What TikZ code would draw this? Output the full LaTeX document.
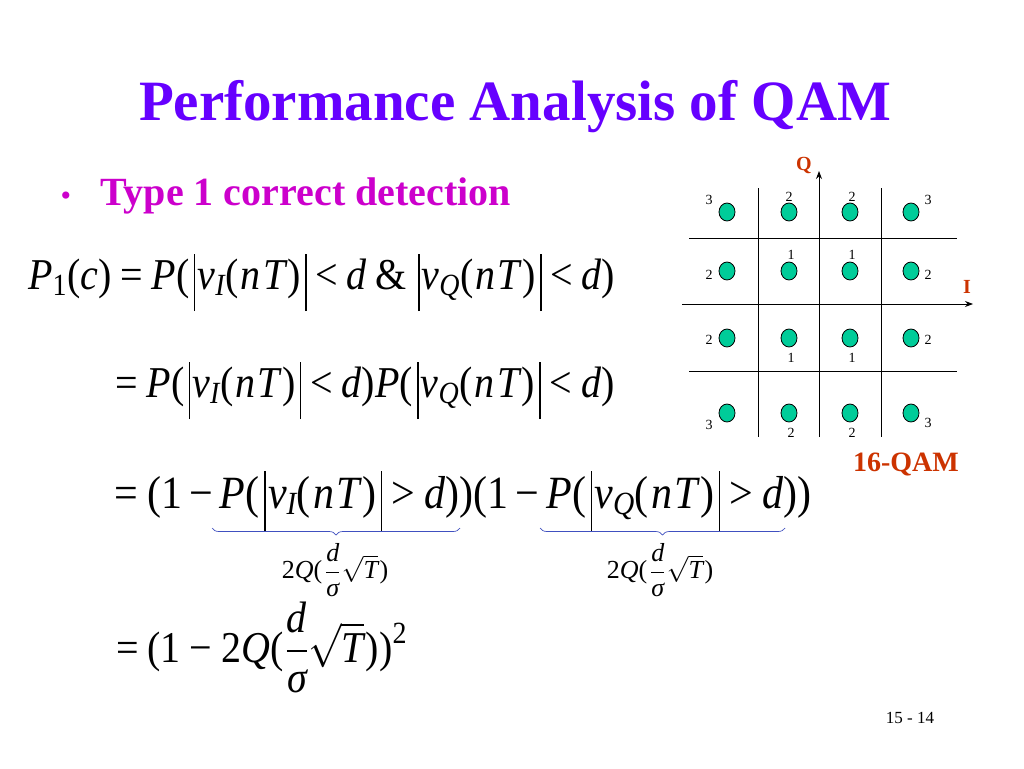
\RequirePackage{fix-cm}
\documentclass[tikz,border=0pt]{standalone}
\usepackage{amsmath}
\usepackage{graphicx}
\usepackage[no-math]{fontspec}
\setmainfont{Liberation Serif}[BoldFont={Liberation Serif Bold}, ItalicFont={Liberation Serif Italic}, BoldItalicFont={Liberation Serif Bold Italic}]
\usetikzlibrary{decorations.pathreplacing,shapes.geometric,arrows.meta}
\definecolor{titlec}{HTML}{6600FF}
\definecolor{bulc}{HTML}{CC00CC}
\definecolor{qamc}{HTML}{CC3300}
\definecolor{dotc}{HTML}{00CC99}
\definecolor{bracec}{HTML}{4050C0}
\newcommand\vi[1]{\textit{#1}}
\newcommand\vu[1]{\textup{#1}}
\newcommand\Eq{\mathrel{\textup{=}}}
\newcommand\Lt{\mathrel{\textup{<}}}
\newcommand\Gt{\mathrel{\textup{>}}}
\newcommand\Mn{\mkern3mu\mathord{\textup{−}}\mkern3mu}
\newcommand\Mb{\mathbin{\textup{−}}}
\newcommand\Lp{\mathopen{\textup{(}}}
\newcommand\Rp{\mathclose{\textup{)}}}
\newcommand\nT{\Lp\mkern1mu\vi{n}\mkern1mu\vi{T}\mkern1mu\Rp}
\newcommand\Al{\mathord{\mkern2mu\rule[-0.5em]{0.035em}{1.3em}\mkern1mu}}
\newcommand\Ar{\mathord{\mkern2mu\rule[-0.5em]{0.035em}{1.3em}}}
\newcommand\Amp{\mathord{\mkern4mu\textup{\&}\mkern3mu}}
\newcommand\Sy[1]{\scalebox{1}[1.1]{$\thickmuskip=4mu\relax #1$}}
\begin{document}
\begin{tikzpicture}[x=1pt,y=-1pt,
  eq/.style={anchor=base west, inner sep=0, font=\fontsize{40}{44}\selectfont},
  eqb/.style={anchor=base west, inner sep=0, font=\fontsize{42}{46}\selectfont},
  sub/.style={anchor=center, inner sep=0, font=\fontsize{26}{28}\selectfont},
  num/.style={inner sep=0, font=\fontsize{14}{16}\selectfont},
  qdot/.style={ellipse, draw=black, line width=0.8pt, fill=dotc, minimum width=16pt, minimum height=18pt, inner sep=0},
  grid/.style={line width=0.8pt, black},
  axis/.style={line width=0.9pt, black, -{Stealth[length=8pt,width=6pt]}},
  lbl/.style={inner sep=0, text=qamc, font=\fontsize{20}{22}\selectfont\bfseries},
  brc/.style={decorate, decoration={brace, mirror, amplitude=7pt}, bracec, line width=0.7pt}]
\useasboundingbox (0,0) rectangle (1024,768);
\fill[white] (0,0) rectangle (1024,768);

% title
\node[anchor=base, inner sep=0, text=titlec, font=\fontsize{57}{60}\selectfont\bfseries] (title) at (515,120) {Performance Analysis of QAM};
\node[anchor=base, inner sep=0, text=bulc, font=\fontsize{30}{32}\selectfont] (bul) at (66,205) {•};
\node[anchor=base west, inner sep=0, text=bulc, font=\fontsize{40}{42}\selectfont\bfseries] (type) at (100,205) {Type 1 correct detection};

% equations
\node[eq] (e1) at (28,289) {\Sy{\vi{P}_{\vu{1}}\Lp\vi{c}\Rp \Eq \vi{P}\Lp\Al\vi{v}_{\vi{I}}\nT\Ar \Lt \vi{d}\Amp\Al\vi{v}_{\vi{Q}}\nT\Ar \Lt \vi{d}\Rp}};
\node[eq] (e2) at (115,397) {\Sy{\Eq \vi{P}\Lp\Al\vi{v}_{\vi{I}}\nT\Ar \Lt \vi{d}\Rp\vi{P}\Lp\Al\vi{v}_{\vi{Q}}\nT\Ar \Lt \vi{d}\Rp}};
\node[eqb] (e3) at (114,508) {\Sy{\Eq \Lp\vu{1}\Mn\vi{P}\Lp\Al\vi{v}_{\vi{I}}\nT\Ar \Gt \vi{d}\Rp\Rp\Lp\vu{1}\Mn\vi{P}\Lp\Al\vi{v}_{\vi{Q}}\nT\Ar \Gt \vi{d}\Rp\Rp}};
\node[eq] (e4) at (116,662) {\Sy{\Eq \Lp\vu{1}\Mb\vu{2}\vi{Q}\Lp\mkern1mu\dfrac{\vi{d}}{\vi{σ}}\sqrt{\vi{T}}\mkern1mu\Rp\Rp^{\vu{2}}}};

\coordinate (b1a) at (212,528);
\coordinate (b1b) at (460,528);
\coordinate (b2a) at (540,528);
\coordinate (b2b) at (785,528);
\draw[brc] (b1a) -- (b1b);
\draw[brc] (b2a) -- (b2b);
\node[sub] (q1) at (335,570) {$\vu{2}\vi{Q}\Lp\mkern2mu\dfrac{\vi{d}}{\vi{σ}}\mkern1mu\sqrt{\vi{T}}\mkern1mu\Rp$};
\node[sub] (q2) at (660,570) {$\vu{2}\vi{Q}\Lp\mkern2mu\dfrac{\vi{d}}{\vi{σ}}\mkern1mu\sqrt{\vi{T}}\mkern1mu\Rp$};

% constellation grid
\draw[grid] (758,188) -- (758,437);
\draw[grid] (881,188) -- (881,437);
\draw[grid] (689,238) -- (957,238);
\draw[grid] (689,371) -- (957,371);
\coordinate (ia) at (682,304);
\coordinate (ib) at (973,304);
\coordinate (qa) at (819,437);
\coordinate (qb) at (819,171);
\draw[axis] (ia) -- (ib);
\draw[axis] (qa) -- (qb);
\node[lbl] (Q) at (804,165) {Q};
\node[lbl] (I) at (967,287) {I};
\node[inner sep=0, text=qamc, font=\fontsize{28}{30}\selectfont\bfseries] (qam) at (906,464) {16-QAM};

% dots
\foreach \c/\x in {1/727,2/789,3/850,4/911}{
  \foreach \r/\y in {1/212,2/271,3/338,4/413}{
    \node[qdot] (d\r\c) at (\x,\y) {};
  }
}
% numbers
\node[num] (n1) at (709,200) {3};
\node[num] (n2) at (789,197) {2};
\node[num] (n3) at (852,197) {2};
\node[num] (n4) at (928,200) {3};
\node[num] (n5) at (709,275) {2};
\node[num] (n6) at (791,255) {1};
\node[num] (n7) at (852,255) {1};
\node[num] (n8) at (928,275) {2};
\node[num] (n9) at (709,340) {2};
\node[num] (n10) at (791,358) {1};
\node[num] (n11) at (852,358) {1};
\node[num] (n12) at (928,340) {2};
\node[num] (n13) at (709,425) {3};
\node[num] (n14) at (791,433) {2};
\node[num] (n15) at (852,433) {2};
\node[num] (n16) at (928,423) {3};

\node[inner sep=0, font=\fontsize{17}{18}\selectfont] (pg) at (910,718) {15 - 14};
\end{tikzpicture}
\end{document}
